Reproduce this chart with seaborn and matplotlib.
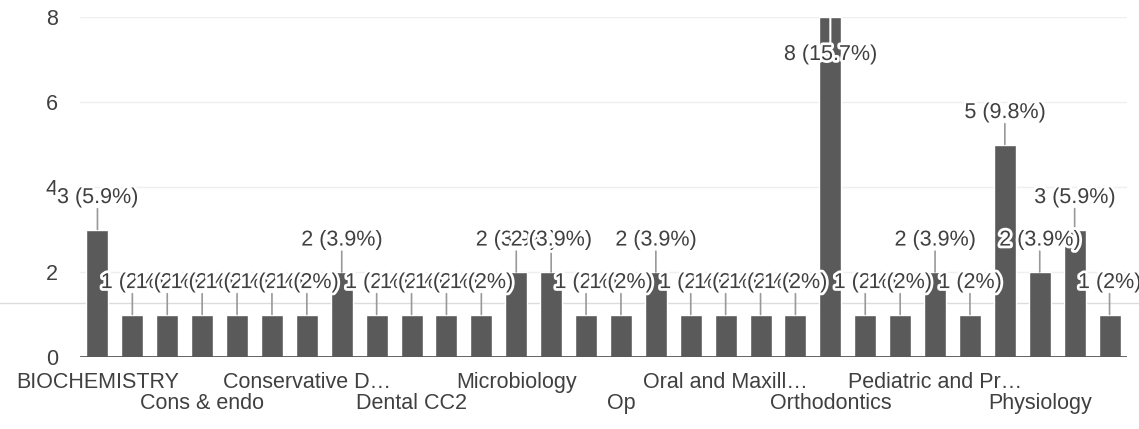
import matplotlib
matplotlib.use('Agg')
import matplotlib.pyplot as plt
import matplotlib.patheffects as pe
from matplotlib.lines import Line2D
import seaborn as sns

# Data (30 answers, alphabetical order, 51 responses in total)
counts = [3, 1, 1, 1, 1, 1, 1, 2, 1, 1,
          1, 1, 2, 2, 1, 1, 2, 1, 1, 1,
          1, 8, 1, 1, 2, 1, 5, 2, 3, 1]
positions = list(range(len(counts)))
# only every third category name is printed on the axis
tick_positions = [0, 3, 6, 9, 12, 15, 18, 21, 24, 27]
tick_labels = ['BIOCHEMISTRY', 'Cons & endo', 'Conservative D\u2026', 'Dental CC2',
               'Microbiology', 'Op', 'Oral and Maxill\u2026', 'Orthodontics',
               'Pediatric and Pr\u2026', 'Physiology']
y_ticks = [0, 2, 4, 6, 8]

total = sum(counts)

sns.set_style('white')
plt.rcParams['font.family'] = ['Liberation Sans', 'DejaVu Sans']

BAR = '#5a5a5a'
TXT = '#404040'
FS = 15.5

fig = plt.figure(figsize=(11.39, 4.29), dpi=100)
ax = fig.add_axes([80 / 1139, 72 / 429, 1047 / 1139, 340 / 429])
ax.patch.set_visible(False)

sns.barplot(x=positions, y=counts, color=BAR, saturation=1, width=0.63, ax=ax, zorder=2)

ax.set_xlim(-0.5, len(counts) - 0.5)
ax.set_ylim(0, 8)
ax.set_yticks(y_ticks)
ax.set_yticklabels([str(t) for t in y_ticks])
for t in y_ticks[1:]:
    ax.axhline(t, color='#efefef', lw=1, zorder=0)
ax.axhline(0, color='#555555', lw=2, zorder=3)

ax.set_xticks(tick_positions)
ax.set_xticklabels(tick_labels)
ax.tick_params(axis='both', length=0, labelsize=FS, labelcolor=TXT)
ax.tick_params(axis='y', pad=16)
for i, tick in enumerate(ax.xaxis.get_major_ticks()):
    tick.set_pad(10.5 if i % 2 == 0 else 26)
ax.set_xlabel('')
ax.set_ylabel('')
sns.despine(ax=ax, left=True, bottom=True, top=True, right=True)

# value labels with a stem, like the Google Forms summary chart
halo = [pe.withStroke(linewidth=4, foreground='white')]
for x, v in zip(positions, counts):
    label = f'{v} ({100 * v / total:.1f}%)'
    if v == 1:
        label = f'{v} ({round(100 * v / total)}%)'
    if v + 0.8 > 8:
        # no room above the bar: label goes inside with a white stem
        ax.annotate('', xy=(x, v), xytext=(0, -19), textcoords='offset points',
                    arrowprops=dict(arrowstyle='-', color='white', lw=1.5,
                                    shrinkA=0, shrinkB=0), zorder=4)
        ax.annotate(label, xy=(x, v), xytext=(0, -27), textcoords='offset points',
                    ha='center', va='center', fontsize=FS, color=TXT,
                    path_effects=halo, zorder=5, annotation_clip=False)
    else:
        ax.annotate('', xy=(x, v), xytext=(0, 15), textcoords='offset points',
                    arrowprops=dict(arrowstyle='-', color='#999999', lw=1.2,
                                    shrinkA=0, shrinkB=0), zorder=4)
        ax.annotate(label, xy=(x, v), xytext=(0, 23), textcoords='offset points',
                    ha='center', va='center', fontsize=FS, color=TXT,
                    path_effects=halo, zorder=5, annotation_clip=False)

# faint scanner line running across the page
fig.add_artist(Line2D([0, 1], [1 - 303 / 429, 1 - 303 / 429], transform=fig.transFigure,
                      color='#dcdcdc', lw=1, zorder=-1))

fig.savefig('out.png', dpi=100, facecolor='white')
